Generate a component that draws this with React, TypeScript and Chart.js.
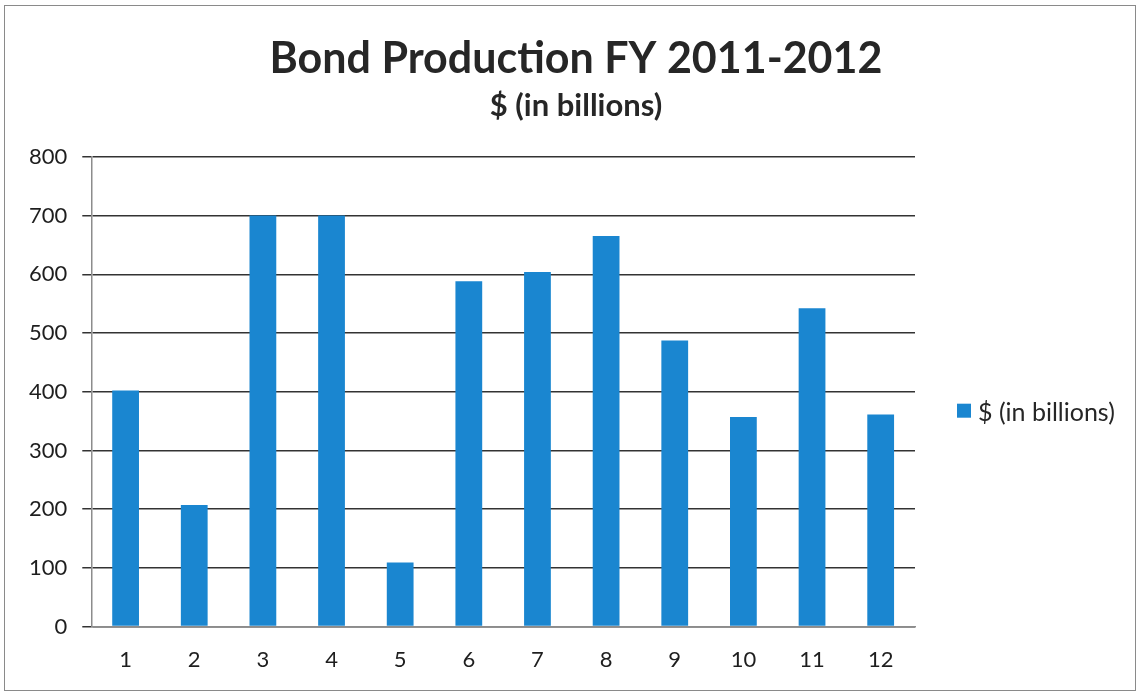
import React, { useEffect, useRef } from "react";
import { Chart, registerables, layouts } from "chart.js";

Chart.register(...registerables);

const categories = ["1", "2", "3", "4", "5", "6", "7", "8", "9", "10", "11", "12"];
const seriesLabel = "$ (in billions)";
const seriesValues = [402, 207, 700, 700, 109, 588, 604, 665, 487, 357, 542, 361];
const titleText = "Bond Production FY 2011-2012";
const subtitleText = "$ (in billions)";
const yMin = 0;
const yMax = 800;
const yStep = 100;

const FONT = "Lato, 'Open Sans', sans-serif";
const BAR_COLOR = "#1a86d0";
const TEXT_COLOR = "#262626";
const LEGEND_WIDTH = 223;

function makeLegendBox(chart: any) {
  const box: any = {
    position: "right",
    weight: 100,
    fullSize: false,
    options: {},
    left: 0,
    top: 0,
    right: 0,
    bottom: 0,
    width: 0,
    height: 0,
    isHorizontal() {
      return false;
    },
    update(_maxWidth: number, maxHeight: number) {
      box.width = LEGEND_WIDTH;
      box.height = maxHeight;
    },
    draw() {
      const ctx = chart.ctx as CanvasRenderingContext2D;
      const ds = chart.data.datasets[0];
      const area = chart.chartArea;
      const boxSize = 14;
      const x = box.left + 42;
      const yc = (area.top + area.bottom) / 2 + 21;
      ctx.save();
      ctx.fillStyle = ds.backgroundColor as string;
      ctx.fillRect(x, yc - boxSize / 2 - 2, boxSize, boxSize);
      ctx.fillStyle = TEXT_COLOR;
      ctx.font = `25px ${FONT}`;
      ctx.textBaseline = "middle";
      ctx.textAlign = "left";
      ctx.fillText(ds.label as string, x + boxSize + 7, yc);
      ctx.restore();
    },
  };
  return box;
}

const sideLegend = {
  id: "sideLegend",
  beforeInit(chart: any) {
    const box = makeLegendBox(chart);
    chart.$sideLegendBox = box;
    layouts.addBox(chart, box);
  },
  afterDestroy(chart: any) {
    if (chart.$sideLegendBox) layouts.removeBox(chart, chart.$sideLegendBox);
  },
};

export default function App() {
  const canvasRef = useRef<HTMLCanvasElement | null>(null);

  useEffect(() => {
    document.body.style.margin = "0";
    const ctx = canvasRef.current;
    if (!ctx) return;
    const chart = new Chart(ctx, {
      type: "bar",
      data: {
        labels: categories,
        datasets: [
          {
            label: seriesLabel,
            data: seriesValues,
            backgroundColor: BAR_COLOR,
            borderWidth: 0,
            barPercentage: 0.78,
            categoryPercentage: 0.5,
          },
        ],
      },
      options: {
        animation: false,
        responsive: false,
        devicePixelRatio: 1,
        layout: { padding: { top: 33, left: 14, right: 0, bottom: 8 } },
        plugins: {
          title: {
            display: true,
            text: titleText,
            color: TEXT_COLOR,
            font: { family: FONT, size: 43, weight: "bold" },
            padding: { top: 0, bottom: 3 },
          },
          subtitle: {
            display: true,
            text: subtitleText,
            color: TEXT_COLOR,
            font: { family: FONT, size: 31, weight: "bold" },
            padding: { top: 0, bottom: 32 },
          },
          legend: { display: false },
          tooltip: { enabled: false },
        },
        scales: {
          x: {
            grid: { display: false },
            border: { color: "#8c8c8c", width: 1.5 },
            ticks: {
              color: "#1e1e1e",
              font: { family: FONT, size: 22 },
              padding: 12,
            },
          },
          y: {
            min: yMin,
            max: yMax,
            ticks: {
              stepSize: yStep,
              color: "#1e1e1e",
              font: { family: FONT, size: 22 },
              padding: 15,
            },
            grid: {
              color: "#333333",
              lineWidth: 1.5,
              tickLength: 9,
            },
            border: { color: "#8c8c8c", width: 1.5 },
          },
        },
      },
      plugins: [sideLegend],
    });
    return () => chart.destroy();
  }, []);

  return (
    <div style={{ position: "relative", width: 1138, height: 693, background: "#fff" }}>
      <canvas ref={canvasRef} width={1138} height={693} style={{ display: "block" }} />
      <div
        style={{
          position: "absolute",
          left: 4,
          top: 5,
          width: 1130,
          height: 684,
          border: "1px solid #8a8a8a",
          pointerEvents: "none",
        }}
      />
    </div>
  );
}
